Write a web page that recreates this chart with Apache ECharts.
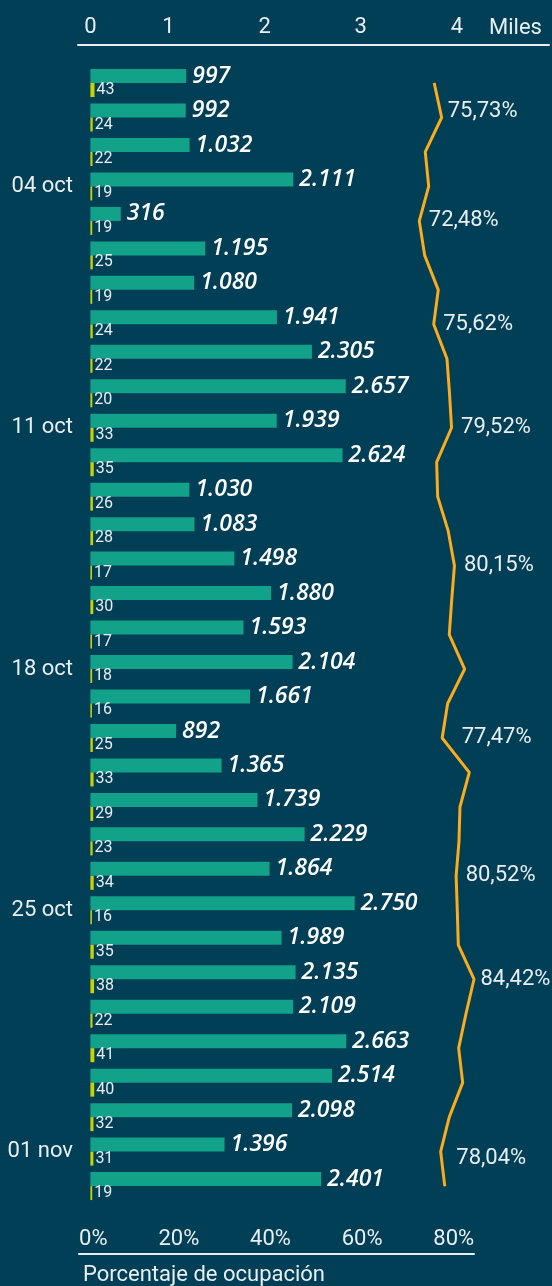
<!DOCTYPE html>
<html>
<head>
<meta charset="utf-8">
<script src="https://cdn.jsdelivr.net/npm/echarts@6/dist/echarts.min.js"></script>
<style>
html, body { margin: 0; padding: 0; background: #003f56; }
#chart { width: 552px; height: 1286px; }
</style>
</head>
<body>
<div id="chart"></div>
<script>
var fechas = ['01 oct','02 oct','03 oct','04 oct','05 oct','06 oct','07 oct','08 oct','09 oct','10 oct',
    '11 oct','12 oct','13 oct','14 oct','15 oct','16 oct','17 oct','18 oct','19 oct','20 oct',
    '21 oct','22 oct','23 oct','24 oct','25 oct','26 oct','27 oct','28 oct','29 oct','30 oct',
    '31 oct','01 nov','02 nov'];
var visitas = [997, 992, 1032, 2111, 316, 1195, 1080, 1941, 2305, 2657, 1939, 2624, 1030, 1083, 1498, 1880,
    1593, 2104, 1661, 892, 1365, 1739, 2229, 1864, 2750, 1989, 2135, 2109, 2663, 2514, 2098, 1396, 2401];
var otros = [43, 24, 22, 19, 19, 25, 19, 24, 22, 20, 33, 35, 26, 28, 17, 30, 17, 18, 16, 25, 33, 29,
    23, 34, 16, 35, 38, 22, 41, 40, 32, 31, 19];
var ocupacion = [75.73, 77.36, 73.78, 74.53, 72.48, 73.65, 76.62, 75.62, 78.52, 79.07, 79.52, 76.27,
    76.49, 78.80, 80.15, 79.55, 79.02, 82.38, 78.67, 77.47, 83.39, 81.36, 81.14, 80.52, 80.77, 80.99,
    84.42, 82.67, 81.07, 81.95, 79.02, 77.14, 78.04];
var filasEtiqueta = [0, 4, 7, 10, 14, 19, 23, 26, 32];

var texto = '#e8eef1';
var fuente = 'Roboto';

function miles(v) {
    if (v < 1000) return String(v);
    var r = String(v % 1000);
    while (r.length < 3) r = '0' + r;
    return Math.floor(v / 1000) + '.' + r;
}
function pct(v) {
    return v.toFixed(2).replace('.', ',') + '%';
}

// ajustes de posicion de algunas etiquetas de la linea
var desplaz = { 0: [4, 28], 19: [10, 0], 26: [-3, 0], 32: [2, -28] };

var datosLinea = ocupacion.map(function (v, i) {
    var d = { value: v };
    if (desplaz[i]) d.label = { offset: desplaz[i] };
    return d;
});

var chart = echarts.init(document.getElementById('chart'));
var option = {
    backgroundColor: '#003f56',
    animation: false,
    grid: [
        { left: 78, right: 0, top: 65.8, height: 1137.5 },
        { left: 79, width: 395, top: 65.8, height: 1137.5 }
    ],
    xAxis: [
        {
            gridIndex: 0,
            type: 'value',
            position: 'top',
            offset: 20.8,
            min: -129,
            max: 4772,
            splitLine: { show: false },
            axisTick: { show: false },
            axisLine: { show: true, lineStyle: { color: texto, width: 2 } },
            axisLabel: {
                color: texto, fontSize: 22, fontFamily: fuente, margin: 7,
                formatter: function (v) {
                    if (v % 1000 !== 0) return '';
                    if (v === 0) return '0';
                    return '{s|' + (v / 1000) + '}';
                },
                rich: { s: { color: texto, fontSize: 22, fontFamily: fuente, padding: [0, 36, 0, 0] } }
            },
            name: 'Miles',
            nameLocation: 'end',
            nameGap: -60,
            nameTextStyle: {
                color: texto, fontSize: 22, fontFamily: fuente,
                align: 'left', verticalAlign: 'bottom', padding: [0, 0, 6, 0]
            }
        },
        {
            gridIndex: 1,
            type: 'value',
            position: 'bottom',
            offset: 50.7,
            min: -1.81,
            max: 84.42,
            splitLine: { show: false },
            axisTick: { show: false },
            axisLine: { show: true, lineStyle: { color: texto, width: 2 } },
            axisLabel: {
                inside: true, margin: 4,
                color: texto, fontSize: 22, fontFamily: fuente,
                formatter: function (v) {
                    if (Math.abs(v % 20) > 1e-6) return '';
                    if (v === 0) return '{z|0%}';
                    return v + '%';
                },
                rich: { z: { color: texto, fontSize: 22, fontFamily: fuente, padding: [0, 0, 0, 12] } }
            },
            name: 'Porcentaje de ocupación',
            nameLocation: 'start',
            nameGap: -4,
            nameTextStyle: {
                color: texto, fontSize: 22, fontFamily: fuente,
                align: 'left', verticalAlign: 'top', padding: [10, 0, 0, 0]
            }
        }
    ],
    yAxis: [
        {
            gridIndex: 0,
            type: 'category',
            data: fechas,
            inverse: true,
            axisLine: { show: false },
            axisTick: { show: false },
            axisLabel: {
                color: texto, fontSize: 22, fontFamily: fuente, margin: 5,
                interval: function (i) { return i % 7 === 3; }
            }
        },
        {
            gridIndex: 1,
            type: 'category',
            data: fechas,
            inverse: true,
            show: false
        }
    ],
    series: [
        {
            name: 'visitas',
            type: 'bar',
            xAxisIndex: 0,
            yAxisIndex: 0,
            barWidth: 14,
            barGap: '0%',
            itemStyle: { color: '#12a189' },
            label: {
                show: true, position: 'right', distance: 6,
                color: '#ffffff', fontSize: 23, fontStyle: 'italic', fontWeight: 600,
                fontFamily: 'Open Sans',
                formatter: function (p) { return miles(p.value); }
            },
            data: visitas
        },
        {
            name: 'otros',
            type: 'bar',
            xAxisIndex: 0,
            yAxisIndex: 0,
            barWidth: 14,
            itemStyle: { color: '#cad300' },
            label: {
                show: true, position: 'right', distance: 2,
                color: texto, fontSize: 16, fontFamily: fuente
            },
            data: otros
        },
        {
            name: 'ocupacion',
            type: 'line',
            xAxisIndex: 1,
            yAxisIndex: 1,
            symbol: 'circle',
            symbolSize: 1,
            lineStyle: { color: '#fbab1c', width: 3 },
            itemStyle: { color: '#fbab1c' },
            label: {
                show: true, position: 'right', distance: 9,
                color: texto, fontSize: 22, fontFamily: fuente,
                formatter: function (p) {
                    return filasEtiqueta.indexOf(p.dataIndex) >= 0 ? pct(p.value) : '';
                }
            },
            data: datosLinea
        }
    ]
};
chart.setOption(option);
</script>
</body>
</html>
